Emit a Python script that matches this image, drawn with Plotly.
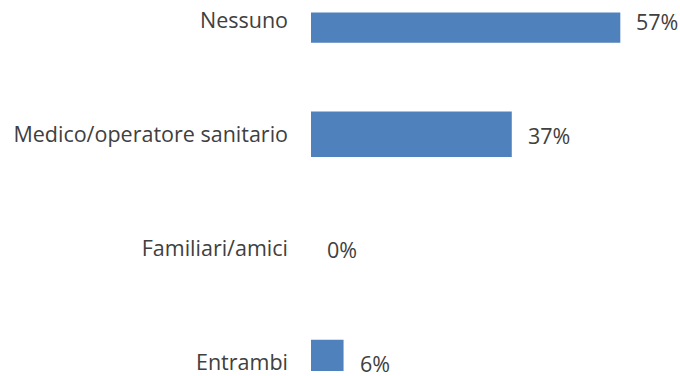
import plotly.graph_objects as go

# Survey answers and their shares (percent)
categories = ["Nessuno", "Medico/operatore sanitario", "Familiari/amici", "Entrambi"]
values = [57, 37, 0, 6]
value_labels = [f"{v}%" for v in values]

# Bar thickness and offset within each category slot (axis units);
# the top bar is trimmed by the upper edge of the frame
bar_widths = [0.265, 0.4, 0.4, 0.4]
bar_offsets = [-0.066, -0.2, -0.2, -0.2]

bar_color = "#4F81BD"
text_color = "#404040"
font_family = "'Open Sans', sans-serif"
font_size = 21.5

fig = go.Figure(
    go.Bar(
        x=values,
        y=categories,
        orientation="h",
        width=bar_widths,
        offset=bar_offsets,
        marker=dict(color=bar_color, line=dict(width=0)),
        hoverinfo="skip",
    )
)

# Value labels placed just to the right of each bar end
for cat, val, lab in zip(categories, values, value_labels):
    fig.add_annotation(
        x=val,
        y=cat,
        text=lab,
        showarrow=False,
        xanchor="left",
        yanchor="middle",
        xshift=14,
        yshift=-1,
        font=dict(family=font_family, size=font_size, color=text_color),
    )

fig.update_layout(
    width=680,
    height=376,
    margin=dict(l=311, r=0, t=0, b=0),
    paper_bgcolor="white",
    plot_bgcolor="white",
    showlegend=False,
    font=dict(family=font_family, size=font_size, color=text_color),
)

fig.update_xaxes(
    range=[0, 68],
    showgrid=False,
    zeroline=False,
    showline=False,
    showticklabels=False,
    ticks="",
)

fig.update_yaxes(
    type="category",
    categoryorder="array",
    categoryarray=categories,
    range=[3.074, -0.176],
    showgrid=False,
    zeroline=False,
    showline=False,
    ticks="",
    ticklabelstandoff=22,
    tickfont=dict(family=font_family, size=font_size, color=text_color),
)

fig.write_html("out.html")
